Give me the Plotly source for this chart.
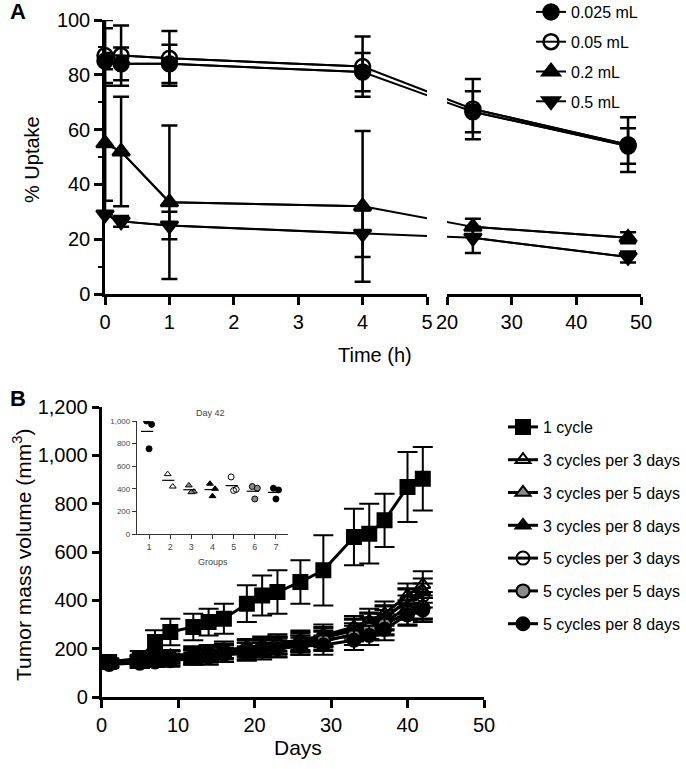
import plotly.graph_objects as go
import numpy as np

W, H = 686, 769
def fx(px): return px / W
def fy(py): return 1 - py / H

# ---------------- Panel A data ----------------
times_h = [0, 0.25, 1, 4, 24, 48]
series_a = ["0.025 mL", "0.05 mL", "0.2 mL", "0.5 mL"]
uptake_0025 = [85, 84, 84, 81, 66.5, 54]
err_0025 = [3, 6, 7, 7, 7.5, 6.5]
uptake_005 = [87, 87, 86, 83, 67.5, 54.5]
err_005 = [10, 11, 10, 11, 11, 10]
uptake_02 = [55, 52, 33.5, 32, 24.5, 20.5]
err_02 = [21, 20, 28, 27.5, 3, 2]
uptake_05 = [29, 26.5, 25, 22, 20.5, 13.5]
err_05_plus = [71, 2, 5, 8.5, 4, 2]
err_05_minus = [0, 2, 5, 8.5, 5.5, 2]

# ---------------- Panel B data ----------------
days = [1, 5, 7, 9, 12, 14, 16, 19, 21, 23, 26, 29, 33, 35, 37, 40, 42]
series_b = ["1 cycle", "3 cycles per 3 days", "3 cycles per 5 days", "3 cycles per 8 days",
            "5 cycles per 3 days", "5 cycles per 5 days", "5 cycles per 8 days"]
vol_1c = [145, 160, 228, 269, 290, 310, 324, 386, 420, 434, 476, 524, 662, 676, 731, 869, 903]
err_1c = [15, 30, 48, 55, 55, 55, 62, 76, 83, 90, 90, 145, 117, 124, 110, 145, 131]
vol_3c3d = [140, 155, 165, 170, 180, 185, 195, 205, 215, 225, 235, 255, 290, 315, 345, 420, 465]
err_3c3d = [15, 20, 25, 25, 30, 30, 35, 35, 35, 35, 40, 45, 45, 50, 50, 50, 55]
vol_3c5d = [140, 150, 160, 165, 170, 180, 190, 200, 210, 215, 225, 245, 275, 300, 325, 400, 440]
err_3c5d = [15, 20, 25, 25, 30, 30, 30, 35, 35, 35, 40, 40, 45, 45, 50, 50, 50]
vol_3c8d = [140, 145, 155, 160, 165, 170, 180, 190, 200, 205, 215, 230, 260, 285, 310, 370, 380]
err_3c8d = [15, 25, 25, 30, 30, 35, 35, 35, 35, 40, 40, 40, 45, 45, 50, 50, 55]
vol_5c3d = [140, 150, 155, 165, 175, 180, 190, 200, 205, 215, 230, 250, 280, 305, 330, 395, 420]
err_5c3d = [15, 20, 25, 25, 30, 30, 30, 35, 35, 35, 40, 40, 45, 45, 50, 50, 50]
vol_5c5d = [140, 145, 150, 155, 165, 175, 185, 190, 200, 210, 220, 235, 255, 280, 300, 350, 370]
err_5c5d = [15, 20, 25, 25, 30, 30, 30, 35, 35, 35, 35, 40, 40, 45, 45, 50, 50]
vol_5c8d = [135, 140, 145, 150, 160, 165, 175, 180, 190, 200, 210, 215, 235, 255, 280, 340, 360]
err_5c8d = [15, 20, 20, 25, 25, 30, 30, 30, 35, 35, 35, 40, 40, 40, 45, 45, 50]

# ---------------- Inset data (Day 42) ----------------
groups = [1, 2, 3, 4, 5, 6, 7]
day42_values = [
    [1000, 970, 754],
    [530, 420],
    [430, 375, 370],
    [445, 400, 335],
    [505, 395, 385],
    [420, 405, 310],
    [405, 390, 310],
]
inset_ticks = [0, 200, 400, 600, 800, 1000]

# ---------------- styling ----------------
FONT = "Liberation Sans, Arial, sans-serif"
GAP = 0.31  # broken-axis gap in display units

def disp(t):
    return t if t <= 5 else 5 + GAP + (t - 20) / 10

fig = go.Figure()

sym_a = ["circle", "circle-open", "triangle-up", "triangle-down"]
vals_a = [uptake_0025, uptake_005, uptake_02, uptake_05]
errp_a = [err_0025, err_005, err_02, err_05_plus]
errm_a = [err_0025, err_005, err_02, err_05_minus]
xd = [disp(t) for t in times_h]

for i, name in enumerate(series_a):
    y = vals_a[i]
    mk = dict(symbol=sym_a[i], size=15, color="black",
              line=dict(color="black", width=2.5))
    for xa in ["x", "x2"]:
        fig.add_trace(go.Scatter(x=xd, y=y, mode="lines", xaxis=xa, yaxis="y",
                                 line=dict(color="black", width=2),
                                 showlegend=False, hoverinfo="skip"))
    left = [j for j, t in enumerate(times_h) if t <= 5]
    right = [j for j, t in enumerate(times_h) if t >= 20]
    for xa, idx, show in [("x", left, True), ("x2", right, False)]:
        fig.add_trace(go.Scatter(
            x=[xd[j] for j in idx], y=[y[j] for j in idx],
            mode="lines+markers", xaxis=xa, yaxis="y", name=name,
            legend="legend", legendgroup="a%d" % i, showlegend=show,
            line=dict(color="black", width=2), marker=mk, cliponaxis=False,
            error_y=dict(type="data", symmetric=False,
                         array=[errp_a[i][j] for j in idx],
                         arrayminus=[errm_a[i][j] for j in idx],
                         color="black", thickness=2.5, width=8)))

# Panel B
sym_b = ["square", "triangle-up-open", "triangle-up", "triangle-up",
         "circle-open", "circle", "circle"]
col_b = ["black", "black", "#8a8a8a", "black", "black", "#8a8a8a", "black"]
vals_b = [vol_1c, vol_3c3d, vol_3c5d, vol_3c8d, vol_5c3d, vol_5c5d, vol_5c8d]
errs_b = [err_1c, err_3c3d, err_3c5d, err_3c8d, err_5c3d, err_5c5d, err_5c8d]
order = [1, 2, 3, 4, 5, 6, 0]
for i in order:
    fig.add_trace(go.Scatter(
        x=days, y=vals_b[i], mode="lines+markers", xaxis="x3", yaxis="y2",
        name=series_b[i], legend="legend2", legendgroup="b%d" % i, legendrank=i + 1,
        line=dict(color="black", width=3),
        marker=dict(symbol=sym_b[i], size=14 if i == 0 else 13, color=col_b[i],
                    line=dict(color="black", width=2)),
        error_y=dict(type="data", array=errs_b[i], color="black",
                     thickness=2, width=10)))

# Inset
jit = [-0.12, 0.12, 0.0]
ins_sym = ["circle", "triangle-up-open", "triangle-up", "triangle-up",
           "circle-open", "circle", "circle"]
ins_col = ["black", "black", "#8a8a8a", "black", "black", "#8a8a8a", "black"]
for gi, g in enumerate(groups):
    v = day42_values[gi]
    fig.add_trace(go.Scatter(
        x=[g + jit[k % 3] for k in range(len(v))], y=v, mode="markers",
        xaxis="x4", yaxis="y3", showlegend=False, hoverinfo="skip",
        marker=dict(symbol=ins_sym[gi], size=6, color=ins_col[gi],
                    line=dict(color="black", width=1))))
mx, my = [], []
for gi, g in enumerate(groups):
    m = float(np.mean(day42_values[gi]))
    mx += [g - 0.38, g + 0.2, None]
    my += [m, m, None]
fig.add_trace(go.Scatter(x=mx, y=my, mode="lines", xaxis="x4", yaxis="y3",
                         line=dict(color="black", width=1.2),
                         showlegend=False, hoverinfo="skip"))

axis_common = dict(showline=True, linecolor="black", linewidth=2.5, ticks="outside",
                   tickcolor="black", tickwidth=2.5, showgrid=False, zeroline=False,
                   tickfont=dict(family=FONT, size=20, color="black"))

fig.update_layout(
    width=W, height=H,
    margin=dict(l=0, r=0, t=0, b=0, pad=0, autoexpand=False),
    paper_bgcolor="white", plot_bgcolor="white",
    font=dict(family=FONT, color="black"),
    xaxis=dict(domain=[fx(105), fx(427)], range=[0, 5], anchor="y",
               tickvals=[0, 1, 2, 3, 4, 5], ticklen=8, ticklabelstandoff=0,
               **axis_common),
    xaxis2=dict(domain=[fx(447), fx(641)], range=[disp(20), disp(50)], anchor="y",
                tickvals=[disp(t) for t in [20, 30, 40, 50]],
                ticktext=["20", "30", "40", "50"], ticklen=8, ticklabelstandoff=0,
                **axis_common),
    yaxis=dict(domain=[fy(294), fy(20)], range=[0, 100], anchor="x",
               tickvals=[0, 20, 40, 60, 80, 100], ticklen=8,
               minor=dict(dtick=10, ticklen=4, ticks="outside", tickcolor="black",
                          tickwidth=2), **axis_common),
    xaxis3=dict(domain=[fx(101.5), fx(484)], range=[0, 50], anchor="y2",
                dtick=10, ticklen=8, **axis_common),
    yaxis2=dict(domain=[fy(697), fy(407)], range=[0, 1200], anchor="x3",
                dtick=200, tickformat=",", ticklen=7, **axis_common),
    xaxis4=dict(domain=[fx(137), fx(288)], range=[0.43, 7.57], anchor="y3",
                tickvals=groups, showline=True, linecolor="#333", linewidth=1.3,
                ticks="outside", ticklen=4, tickwidth=1.2, tickcolor="#333",
                showgrid=False, zeroline=False,
                tickfont=dict(family=FONT, size=9, color="#444")),
    yaxis3=dict(domain=[fy(534), fy(421)], range=[0, 1000], anchor="x4",
                tickvals=inset_ticks, tickformat=",", showline=True, linecolor="#333",
                linewidth=1.3, ticks="outside", ticklen=4, tickwidth=1.2,
                tickcolor="#333", showgrid=False, zeroline=False,
                tickfont=dict(family=FONT, size=8, color="#444")),
    legend=dict(x=fx(531), y=fy(-5), xanchor="left", yanchor="top",
                font=dict(family=FONT, size=16, color="black"),
                bgcolor="rgba(0,0,0,0)", tracegroupgap=6, itemwidth=30),
    legend2=dict(x=fx(503), y=fy(410), xanchor="left", yanchor="top",
                 font=dict(family=FONT, size=16, color="black"),
                 bgcolor="rgba(0,0,0,0)", tracegroupgap=9, itemwidth=30,
                 traceorder="grouped"),
)

ann = [
    ("A", 18, 12, 22, True, 0, "black"),
    ("B", 18, 398, 22, True, 0, "black"),
    ("% Uptake", 32, 160, 20, False, -90, "black"),
    ("Time (h)", 375, 355, 20, False, 0, "black"),
    ("Tumor mass volume (mm<sup>3</sup>)", 22, 555, 21, False, -90, "black"),
    ("Days", 298, 747, 21, False, 0, "black"),
    ("Day 42", 210, 413, 9, False, 0, "#444"),
    ("Groups", 213, 562, 9, False, 0, "#444"),
]
for txt, x, y, s, bold, ang, c in ann:
    fig.add_annotation(text="<b>%s</b>" % txt if bold else txt, x=fx(x), y=fy(y),
                       xref="paper", yref="paper", showarrow=False, textangle=ang,
                       xanchor="center", yanchor="middle",
                       font=dict(family=FONT, size=s, color=c))

fig.write_html("out.html", config={"displayModeBar": False},
               post_script="document.body.style.margin='0';document.body.style.padding='0';")
